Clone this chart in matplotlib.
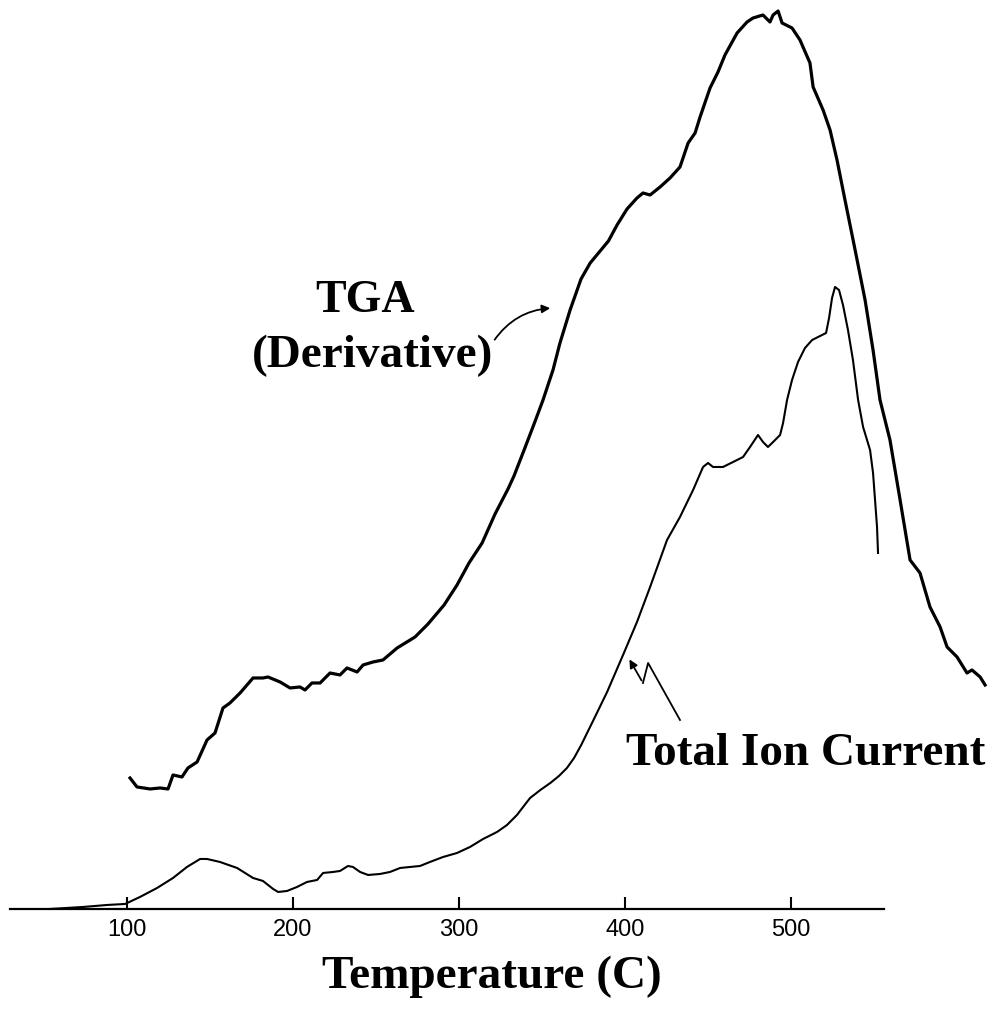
import matplotlib
matplotlib.use('Agg')
import matplotlib.pyplot as plt

# TGA (derivative) trace: temperature (C) / signal (a.u.)
tga_temp = [101.8, 106.0, 113.9, 119.9, 124.7, 127.7, 133.1, 136.7, 142.2, 148.2,
            153.0, 157.8, 162.0, 168.1, 175.9, 181.9, 184.9, 192.2, 198.2, 204.2,
            207.2, 211.4, 216.3, 222.3, 228.3, 232.5, 238.6, 242.2, 248.2, 254.2,
            262.7, 273.5, 281.3, 291.0, 298.8, 306.0, 313.9, 321.7, 329.5, 333.1,
            339.2, 345.2, 350.6, 356.6, 360.8, 366.9, 373.5, 379.0, 384.5, 390.0,
            395.2, 401.2, 407.2, 410.8, 415.1, 421.1, 427.1, 433.1, 438.0, 442.2,
            445.2, 451.2, 456.0, 460.2, 467.5, 473.5, 477.1, 483.1, 487.3, 489.2,
            492.2, 494.6, 500.6, 505.4, 511.4, 513.3, 519.3, 523.5, 527.7, 532.5,
            538.6, 544.6, 549.4, 553.6, 559.6, 565.7, 571.7, 577.7, 583.7, 589.8,
            594.0, 600.0, 606.0, 609.0, 613.9, 616.9]
tga_signal = [131, 122, 120, 121, 120, 134, 132, 141, 147, 169,
              176, 201, 206, 216, 231, 231, 232, 227, 221, 222,
              219, 226, 226, 236, 234, 241, 237, 244, 247, 249,
              261, 272, 285, 304, 324, 346, 366, 395, 420, 433,
              459, 485, 509, 539, 566, 599, 630, 646, 657, 668,
              684, 700, 711, 716, 714, 722, 731, 742, 766, 776,
              792, 821, 837, 854, 876, 887, 891, 894, 887, 894,
              898, 886, 881, 869, 846, 822, 799, 779, 749, 709,
              659, 609, 559, 509, 469, 409, 349, 336, 302, 282,
              262, 252, 236, 239, 232, 224]

# Total ion current trace
tic_temp = [53.6, 73.5, 88.0, 98.8, 107.8, 118.1, 127.7, 136.1, 144.0, 148.2,
            156.0, 166.3, 175.9, 181.9, 188.0, 191.0, 196.4, 202.4, 208.4, 214.5,
            218.1, 224.1, 228.3, 233.1, 236.1, 240.4, 245.2, 252.4, 258.4, 264.5,
            270.5, 276.5, 282.5, 290.4, 298.8, 306.6, 314.5, 322.9, 328.9, 334.9,
            338.6, 342.8, 349.0, 355.0, 360.2, 365.0, 369.3, 373.6, 380.7, 389.2,
            398.8, 407.2, 415.1, 425.3, 433.1, 441.0, 447.0, 450.0, 453.0, 459.0,
            465.1, 471.1, 475.3, 480.1, 483.1, 486.1, 489.2, 493.4, 495.2, 497.6,
            500.6, 504.2, 508.4, 512.7, 517.5, 521.1, 522.9, 524.7, 526.5, 528.9,
            531.3, 534.3, 537.3, 540.4, 543.4, 547.6, 549.4, 550.6, 551.8, 552.4]
tic_signal = [0, 2, 4, 5, 12, 21, 31, 42, 50, 50,
              47, 41, 31, 28, 20, 17, 18, 22, 27, 29,
              36, 37, 38, 43, 42, 37, 34, 35, 37, 41,
              42, 43, 47, 52, 56, 62, 70, 77, 84, 94,
              102, 111, 119, 126, 133, 141, 151, 164, 188, 217,
              254, 287, 322, 369, 392, 419, 442, 446, 442, 442,
              447, 452, 462, 474, 467, 462, 467, 474, 486, 509,
              529, 547, 561, 569, 573, 576, 591, 611, 622, 619,
              604, 579, 549, 509, 482, 459, 436, 409, 382, 356]

x_ticks = [100, 200, 300, 400, 500]

# zig-zag pointer of the TIC label
tic_pointer_temp = [433.1, 413.9, 410.8]
tic_pointer_signal = [189, 246, 226]

serif = ['Liberation Serif', 'DejaVu Serif']

fig = plt.figure(figsize=(10, 10.18), dpi=100)
ax = fig.add_axes([0.01, 0.1071, 0.874, 0.8929])
ax.set_xlim(29.5, 556)
ax.set_ylim(0, 909)

ax.plot(tga_temp, tga_signal, color='black', linewidth=2.3, clip_on=False)
ax.plot(tic_temp, tic_signal, color='black', linewidth=1.5, clip_on=False)

# axis styling: only the bottom line, ticks pointing up
for side in ['top', 'right', 'left']:
    ax.spines[side].set_visible(False)
ax.spines['bottom'].set_linewidth(1.6)
ax.set_yticks([])
ax.set_xticks(x_ticks)
ax.set_xticklabels([str(t) for t in x_ticks],
                   family=['Liberation Sans Narrow', 'Liberation Sans', 'DejaVu Sans'],
                   fontsize=17)
ax.tick_params(axis='x', direction='in', length=9, width=1.5, pad=7)

ax.set_xlabel('Temperature (C)', family=serif, fontsize=34, fontweight='bold')
ax.xaxis.set_label_coords(0.5515, -0.0869)
ax.xaxis.label.set_va('baseline')

# curve labels
ax.text(243.4, 597, 'TGA', family=serif, fontsize=33, fontweight='bold',
        ha='center', va='baseline')
ax.text(248.2, 542, '(Derivative)', family=serif, fontsize=34, fontweight='bold',
        ha='center', va='baseline')
ax.annotate('', xy=(356.6, 601), xytext=(320.5, 567),
            arrowprops=dict(arrowstyle='-|>', color='black', lw=1.3,
                            mutation_scale=12,
                            connectionstyle='arc3,rad=-0.25'))

ax.text(509.0, 144, 'Total Ion Current', family=serif, fontsize=34,
        fontweight='bold', ha='center', va='baseline', clip_on=False)
ax.plot(tic_pointer_temp, tic_pointer_signal, color='black', linewidth=1.3)
ax.annotate('', xy=(401.8, 252), xytext=(410.8, 226),
            arrowprops=dict(arrowstyle='-|>', color='black', lw=1.3,
                            mutation_scale=12))

plt.savefig('out.png', dpi=100)
plt.close()
